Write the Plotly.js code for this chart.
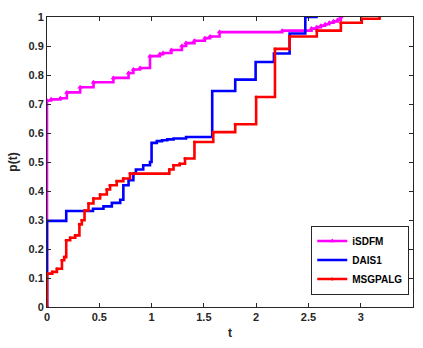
<!DOCTYPE html>
<html>
<head>
<meta charset="utf-8">
<script src="https://cdn.plot.ly/plotly-3.0.1.min.js"></script>
<style>html,body{margin:0;padding:0;background:#fff;}#chart{width:423px;height:348px;}</style>
</head>
<body>
<div id="chart"></div>
<script>
// iSDFM
const tISDFM = [0, 0, 0.04, 0.127, 0.19, 0.317, 0.445, 0.635, 0.78, 0.826, 0.89, 0.985, 1.08, 1.11, 1.19, 1.29, 1.33, 1.41, 1.51, 1.56, 1.65, 2.25, 2.53, 2.58, 2.62, 2.66, 2.70, 2.74, 2.78, 2.81];
const pISDFM = [0, 0.712, 0.716, 0.72, 0.74, 0.758, 0.775, 0.79, 0.807, 0.819, 0.824, 0.865, 0.872, 0.876, 0.886, 0.90, 0.91, 0.918, 0.927, 0.933, 0.948, 0.953, 0.96, 0.965, 0.97, 0.975, 0.98, 0.985, 0.99, 1.0];
// DAIS1
const tDAIS1 = [0, 0, 0.184, 0.44, 0.54, 0.62, 0.70, 0.73, 0.78, 0.826, 0.85, 0.92, 0.985, 1.0, 1.05, 1.10, 1.15, 1.21, 1.33, 1.58, 1.80, 1.995, 2.17, 2.32, 2.47, 2.59];
const pDAIS1 = [0, 0.297, 0.331, 0.339, 0.347, 0.359, 0.37, 0.42, 0.437, 0.46, 0.474, 0.489, 0.50, 0.566, 0.572, 0.575, 0.578, 0.581, 0.586, 0.745, 0.784, 0.845, 0.874, 0.943, 1.0, 1.0];
// MSGPALG
const tMSG = [0, 0, 0.05, 0.095, 0.143, 0.165, 0.184, 0.222, 0.27, 0.31, 0.333, 0.359, 0.397, 0.444, 0.508, 0.572, 0.603, 0.667, 0.73, 0.794, 1.17, 1.21, 1.27, 1.32, 1.41, 1.59, 1.80, 2.0, 2.18, 2.32, 2.58, 2.81, 3.01, 3.18];
const pMSG = [0, 0.115, 0.121, 0.132, 0.161, 0.172, 0.23, 0.239, 0.247, 0.285, 0.299, 0.333, 0.357, 0.374, 0.388, 0.405, 0.42, 0.434, 0.443, 0.46, 0.474, 0.489, 0.494, 0.512, 0.569, 0.603, 0.63, 0.724, 0.89, 0.933, 0.953, 0.98, 0.994, 1.0];

const seriesNames = ['iSDFM', 'DAIS1', 'MSGPALG'];
const xTicks = [0, 0.5, 1, 1.5, 2, 2.5, 3];
const yTicks = [0, 0.1, 0.2, 0.3, 0.4, 0.5, 0.6, 0.7, 0.8, 0.9, 1];

const traces = [
  {x: tISDFM, y: pISDFM, name: seriesNames[0], mode: 'lines+markers', line: {shape: 'hv', color: '#ff00ff', width: 2.6}, marker: {symbol: 'triangle-up', size: 5, color: '#ff00ff'}},
  {x: tDAIS1, y: pDAIS1, name: seriesNames[1], mode: 'lines', line: {shape: 'hv', color: '#0000ff', width: 2.6}},
  {x: tMSG, y: pMSG, name: seriesNames[2], mode: 'lines+markers', line: {shape: 'hv', color: '#ff0000', width: 2.6}, marker: {symbol: 'circle', size: 3, color: '#ff0000'}}
];

const axFont = {family: 'Liberation Sans, Arial, sans-serif', size: 11, color: '#262626', weight: 'bold'};
const layout = {
  width: 423, height: 348,
  margin: {l: 47, r: 10, t: 17, b: 41},
  paper_bgcolor: '#ffffff', plot_bgcolor: '#ffffff',
  showlegend: true,
  legend: {x: 0.722, y: 0.162, xanchor: 'left', yanchor: 'middle', bgcolor: '#ffffff', bordercolor: '#262626', borderwidth: 1, font: {family: 'Liberation Sans, Arial, sans-serif', size: 10, color: '#000', weight: 'bold'}, tracegroupgap: 0, itemwidth: 30},
  xaxis: {range: [0, 3.5], tickvals: xTicks, ticktext: xTicks.map(String), ticks: 'inside', ticklen: 4, tickcolor: '#262626', showline: true, linecolor: '#262626', linewidth: 1, mirror: 'ticks', showgrid: false, zeroline: false, tickfont: axFont, title: {text: 't', font: {family: 'Liberation Sans, Arial, sans-serif', size: 12, color: '#262626', weight: 'bold'}, standoff: 6}},
  yaxis: {range: [0, 1], tickvals: yTicks, ticktext: yTicks.map(String), ticks: 'inside', ticklen: 4, tickcolor: '#262626', showline: true, linecolor: '#262626', linewidth: 1, mirror: 'ticks', showgrid: false, zeroline: false, tickfont: axFont, title: {text: 'p(t)', font: {family: 'Liberation Sans, Arial, sans-serif', size: 12, color: '#262626', weight: 'bold'}, standoff: 8}}
};
Plotly.newPlot('chart', traces, layout, {displayModeBar: false, staticPlot: true});
</script>
</body>
</html>
